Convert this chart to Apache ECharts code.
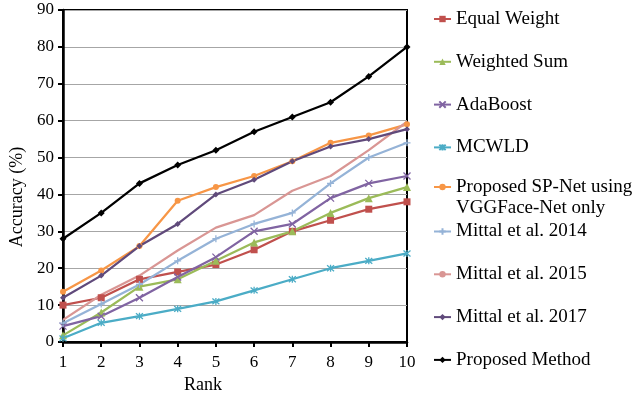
<!DOCTYPE html>
<html>
<head>
<meta charset="utf-8">
<script src="https://cdn.jsdelivr.net/npm/echarts@6/dist/echarts.min.js"></script>
<style>
html,body{margin:0;padding:0;background:#fff;}
#chart{width:639px;height:393px;}
</style>
</head>
<body>
<div id="chart"></div>
<script>
const ranks = ['1','2','3','4','5','6','7','8','9','10'];
const yTicks = [0,10,20,30,40,50,60,70,80,90];
const equalWeight = [10, 12, 17, 19, 21, 25, 30, 33, 36, 38];
const weightedSum = [1.8, 8, 15, 17, 22, 27, 30, 35, 39, 42];
const adaBoost = [4.3, 7, 12, 17.6, 23, 30, 32, 39, 43, 45];
const mcwld = [1, 5.2, 7, 9, 11, 14, 17, 20, 22, 24];
const spNet = [13.6, 19.4, 26, 38.3, 42, 45, 49, 54, 56, 59];
const mittal2014 = [5.1, 10.3, 15.6, 22, 28, 32, 35, 43, 50, 54];
const mittal2015 = [6, 12.8, 18, 24.8, 31, 34.4, 41, 45, 52, 59.7];
const mittal2017 = [12, 18, 26, 32, 40, 44, 49, 53, 55, 57.7];
const proposed = [28, 35, 43, 48, 52, 57, 61, 65, 72, 80];

const seriesNames = ['Equal Weight','Weighted Sum','AdaBoost','MCWLD',
  'Proposed SP-Net using VGGFace-Net only','Mittal et al. 2014','Mittal et al. 2015',
  'Mittal et al. 2017','Proposed Method'];

const FONT = '"Liberation Serif", "Times New Roman", serif';
const X_SYM = 'path://M0,0L10,10M10,0L0,10';
const AST_SYM = 'path://M0,0L10,10M10,0L0,10M5,-1L5,11';
const PLUS_SYM = 'path://M5,0L5,10M0,5L10,5';

function mk(name, data, color, symbol, size, stroke) {
  return {
    name, type: 'line', data, symbol, symbolSize: size,
    showSymbol: symbol !== 'none',
    lineStyle: {color, width: 2.25},
    itemStyle: {color, borderColor: color, borderWidth: stroke ? 1.3 : 0},
    emphasis: {disabled: true},
    z: 3
  };
}

const series = [
  mk(seriesNames[0], equalWeight, '#C0504D', 'rect', 7, false),
  mk(seriesNames[1], weightedSum, '#9BBB59', 'triangle', 8, false),
  mk(seriesNames[2], adaBoost, '#8064A2', X_SYM, 7, true),
  mk(seriesNames[3], mcwld, '#4BACC6', AST_SYM, 7, true),
  mk(seriesNames[4], spNet, '#F79646', 'circle', 6, false),
  mk(seriesNames[5], mittal2014, '#95B3D7', PLUS_SYM, 7, true),
  mk(seriesNames[6], mittal2015, '#D99694', 'none', 0, false),
  mk(seriesNames[7], mittal2017, '#604A7B', 'diamond', 6, false),
  mk(seriesNames[8], proposed, '#000000', 'diamond', 7, false)
];

const legendBase = {
  orient: 'vertical', left: 428, itemWidth: 17, itemHeight: 8,
  itemGap: 23.8, selectedMode: false,
  textStyle: {fontFamily: FONT, fontSize: 19, lineHeight: 18, color: '#000'}
};

const chart = echarts.init(document.getElementById('chart'), null, {renderer: 'canvas'});
chart.setOption({
  animation: false,
  backgroundColor: '#fff',
  grid: {left: 63, right: 232, top: 10, bottom: 51, show: true, containLabel: false,
         outerBoundsMode: 'none',
         borderColor: '#000', borderWidth: 2, backgroundColor: 'transparent'},
  legend: [
    Object.assign({}, legendBase, {top: 4.5, data: seriesNames.slice(0, 4)}),
    Object.assign({}, legendBase, {top: 150.5, data: [seriesNames[4]],
      formatter: n => '\n' + n.replace(' VGGFace', '\nVGGFace'),
      textStyle: {fontFamily: FONT, fontSize: 19, lineHeight: 21, color: '#000'}}),
    Object.assign({}, legendBase, {top: 217, data: seriesNames.slice(5)})
  ],
  xAxis: {
    type: 'category', data: ranks, boundaryGap: false,
    name: 'Rank', nameLocation: 'middle', nameGap: 28,
    nameTextStyle: {fontFamily: FONT, fontSize: 18, color: '#000', padding: [0, 64, 0, 0]},
    axisLine: {lineStyle: {color: '#000', width: 2.5}},
    axisTick: {show: true, alignWithLabel: true, length: 5, lineStyle: {color: '#000', width: 2}},
    axisLabel: {fontFamily: FONT, fontSize: 17, color: '#000', margin: 12},
    splitLine: {show: false}
  },
  yAxis: {
    type: 'value', min: yTicks[0], max: yTicks[yTicks.length - 1], interval: 10,
    name: 'Accuracy (%)', nameLocation: 'middle', nameGap: 36,
    nameTextStyle: {fontFamily: FONT, fontSize: 18, color: '#000', padding: [0, 42, 0, 0]},
    axisLine: {show: true, lineStyle: {color: '#000', width: 2.5}},
    axisTick: {show: true, length: 5, lineStyle: {color: '#000', width: 2}},
    axisLabel: {fontFamily: FONT, fontSize: 17, color: '#000', margin: 9},
    splitLine: {show: true, lineStyle: {color: '#A6A6A6', width: 1}}
  },
  series
});
</script>
</body>
</html>
